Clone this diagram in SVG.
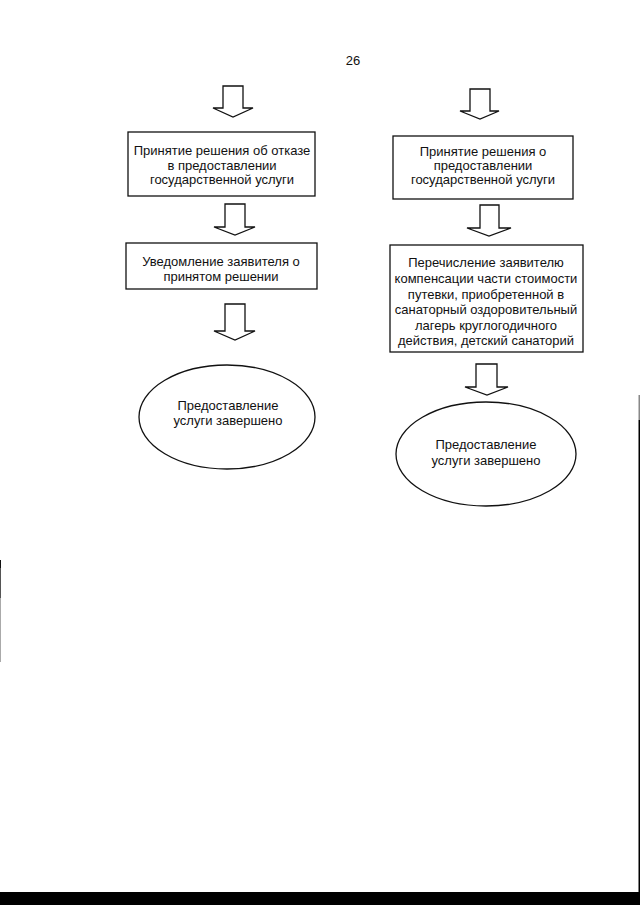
<svg xmlns="http://www.w3.org/2000/svg" width="640" height="905" viewBox="0 0 640 905">
<style>
.bg{fill:#fff}
.box,.ell,.arr{fill:#fff;stroke:#111;stroke-width:1.3}
text{font-family:"Liberation Sans",Arial,sans-serif;font-size:13px;fill:#111;text-anchor:middle}
</style>
<rect class="bg" x="0" y="0" width="640" height="905"/>
<text x="353" y="65">26</text>
<g id="connectors">
<polygon class="arr" points="223,86 243,86 243,108 253,108 233,117 213,108 223,108"/>
<polygon class="arr" points="225,204 245,204 245,227 255,227 235,235 214,227 225,227"/>
<polygon class="arr" points="225,304 245,304 245,331 255,331 235,340 214,331 225,331"/>
<polygon class="arr" points="470,89 490,89 490,111 499,111 480,119 460,111 470,111"/>
<polygon class="arr" points="480,205 499,205 499,228 511,228 489,236 467,228 480,228"/>
<polygon class="arr" points="476,364 497,364 497,387 508,387 487,395 465,387 476,387"/>
</g>
<g id="refusal-decision">
<rect class="box" x="128" y="132" width="187" height="64"/>
<text x="222" y="155">Принятие решения об отказе</text>
<text x="222" y="169.5">в предоставлении</text>
<text x="222" y="184">государственной услуги</text>
</g>
<g id="notify-applicant">
<rect class="box" x="126" y="243" width="191" height="46"/>
<text x="221" y="266">Уведомление заявителя о</text>
<text x="221" y="281">принятом решении</text>
</g>
<g id="end-left">
<ellipse class="ell" cx="227" cy="417" rx="88" ry="52"/>
<text x="228" y="410">Предоставление</text>
<text x="228" y="425">услуги завершено</text>
</g>
<g id="grant-decision">
<rect class="box" x="393" y="136" width="180" height="63"/>
<text x="483" y="156">Принятие решения о</text>
<text x="483" y="170">предоставлении</text>
<text x="483" y="184">государственной услуги</text>
</g>
<g id="compensation">
<rect class="box" x="390" y="245" width="193" height="107"/>
<text x="486" y="267">Перечисление заявителю</text>
<text x="486" y="283">компенсации части стоимости</text>
<text x="486" y="298.5">путевки, приобретенной в</text>
<text x="486" y="314">санаторный оздоровительный</text>
<text x="486" y="329.5">лагерь круглогодичного</text>
<text x="486" y="345">действия, детский санаторий</text>
</g>
<g id="end-right">
<ellipse class="ell" cx="486" cy="454" rx="90" ry="52"/>
<text x="486" y="449">Предоставление</text>
<text x="486" y="465">услуги завершено</text>
</g>
<rect x="0" y="892" width="640" height="13" fill="#000"/>
<rect x="638.5" y="395" width="1.5" height="25" fill="#888"/>
<rect x="638.5" y="420" width="1.5" height="472" fill="#000"/>
<rect x="0" y="560" width="1" height="8" fill="#111"/>
<rect x="0" y="568" width="1" height="30" fill="#555"/>
<rect x="0" y="598" width="1" height="64" fill="#aaa"/>
</svg>
